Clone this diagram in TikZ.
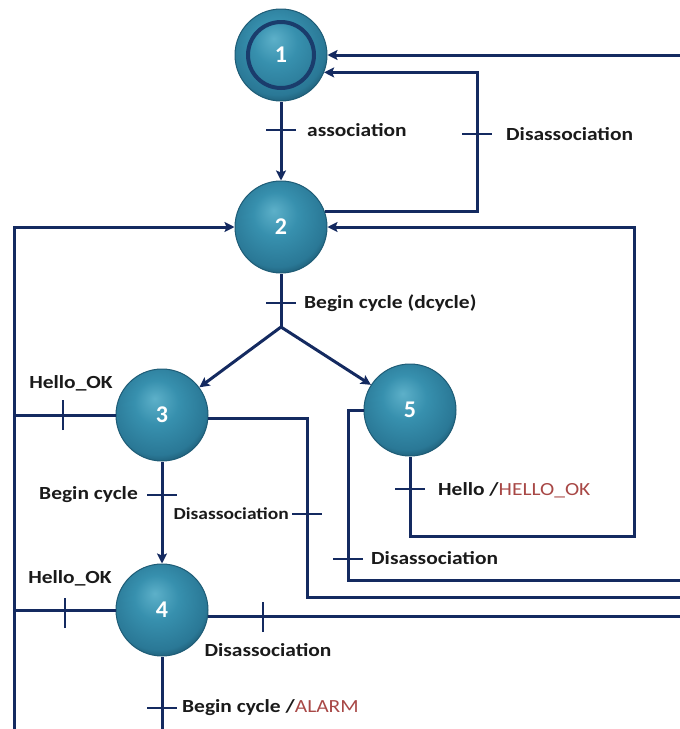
\documentclass[tikz,border=0pt]{standalone}
\usepackage{fontspec}
\setmainfont{Carlito}
\newfontfamily\lblfont[FakeStretch=1.16]{Carlito}
\usetikzlibrary{arrows.meta}

\definecolor{wire}{HTML}{142A60}
\definecolor{tealLight}{HTML}{5DB0C9}
\definecolor{tealMid}{HTML}{3790AE}
\definecolor{tealDark}{HTML}{2A7896}
\definecolor{rimDark}{HTML}{1E5C76}
\definecolor{ringBlue}{HTML}{1A3C6C}
\definecolor{cue}{HTML}{A84846}
\definecolor{ink}{HTML}{1A1A1A}

% soft sphere look for the state discs
\pgfdeclareradialshading{ballshade}{\pgfpoint{-4bp}{9bp}}{%
  color(0bp)=(tealLight); color(12bp)=(tealMid); color(26bp)=(tealDark);
  color(30bp)=(rimDark); color(50bp)=(rimDark)}

\newcommand\htick[1]{\draw[tickline] ([xshift=-15pt]#1) -- ([xshift=15pt]#1);}
\newcommand\vtick[1]{\draw[tickline] ([yshift=-15pt]#1) -- ([yshift=15pt]#1);}

\begin{document}
\begin{tikzpicture}[x=1pt,y=-1pt,
  stnode/.style={circle, minimum size=92pt, inner sep=0pt, shading=ballshade,
    draw=rimDark, line width=1pt, text=white,
    font=\bfseries\fontsize{24}{24}\selectfont},
  ring/.style={draw=ringBlue, line width=4pt},
  wire/.style={draw=wire, line width=3pt},
  flow/.style={wire, -{Stealth[length=10pt,width=10pt,inset=2pt]}},
  tickline/.style={draw=wire, line width=2pt},
  lbl/.style={inner sep=0pt, text=ink, font=\lblfont\bfseries\fontsize{18.5}{18.5}\selectfont},
  small lbl/.style={lbl, font=\lblfont\bfseries\fontsize{16.8}{16.8}\selectfont}]
\useasboundingbox (0,0) rectangle (680,729);

% states
\node[stnode] (n1) at (281,55) {1};
\draw[ring] (n1.center) circle[radius=33];
\node[stnode] (n2) at (281,227) {2};
\node[stnode] (n3) at (162,415) {3};
\node[stnode] (n5) at (410,410) {5};
\node[stnode] (n4) at (162,610) {4};

% helper points: bends, tick marks and free ends
\coordinate (j)   at (281,327);
\coordinate (ta)  at (281,130);
\coordinate (c1)  at (477,134);
\coordinate (tb)  at (281,303);
\coordinate (rtop) at (680,55);
\coordinate (lb)  at (14,729);
\coordinate (h3)  at (63,415);
\coordinate (h4)  at (65,613);
\coordinate (d3)  at (307,514);
\coordinate (e3)  at (680,597);
\coordinate (d5)  at (348,559);
\coordinate (e5)  at (680,580);
\coordinate (c5)  at (634,536);
\coordinate (h5)  at (410,489);
\coordinate (t34) at (162,495);
\coordinate (t4r) at (263,617);
\coordinate (e4)  at (680,617);
\coordinate (t4b) at (162,708);

% connectors
\draw[flow] (n1) -- (n2);
\draw[flow] (n2.19) -| (c1) |- (n1.-22);
\draw[flow] (rtop) -- (n1.east);
\draw[wire] (n2) -- (j);
\draw[flow] (j) -- (n3);
\draw[flow] (j) -- (n5);
\draw[flow] (lb) |- (n2.west);
\draw[wire] (n3.west) -- (n3.west -| lb);
\draw[wire] (n4.west) -- (n4.west -| lb);
\draw[wire] (n3.-4) -| (d3) |- (e3);
\draw[wire] (n5.west) -| (d5) |- (e5);
\draw[flow] (n5.south) |- (c5) |- (n2.east);
\draw[flow] (n3) -- (n4);
\draw[wire] (n4.-8) -- (n4.-8 -| e4);
\draw[wire] (n4.south) -- (n4.south |- lb);

% transition bars
\htick{ta}
\htick{c1}
\htick{tb}
\vtick{h3}
\vtick{h4}
\htick{d3}
\htick{d5}
\htick{h5}
\htick{t34}
\vtick{t4r}
\htick{t4b}

% transition labels
\node[lbl, anchor=west] (la)  at (307,130) {association};
\node[lbl, anchor=west] (lc1) at (506,134) {Disassociation};
\node[lbl, anchor=west] (lb2) at (304,303) {Begin cycle (dcycle)};
\node[lbl] (lh3) at (71,383) {Hello\_OK};
\node[lbl] (lh4) at (70,578) {Hello\_OK};
\node[lbl, anchor=east] (l34) at (138,495) {Begin cycle};
\node[small lbl, anchor=east] (ld3) at (289,514) {Disassociation};
\node[lbl, anchor=west] (lh5) at (438,490) {Hello /\textcolor{cue}{\mdseries HELLO\_OK}};
\node[lbl, anchor=west] (ld5) at (371,558) {Disassociation};
\node[lbl] (l4r) at (268,650) {Disassociation};
\node[lbl, anchor=west] (l4b) at (182,708) {Begin cycle /\textcolor{cue}{\mdseries ALARM}};
\end{tikzpicture}
\end{document}
